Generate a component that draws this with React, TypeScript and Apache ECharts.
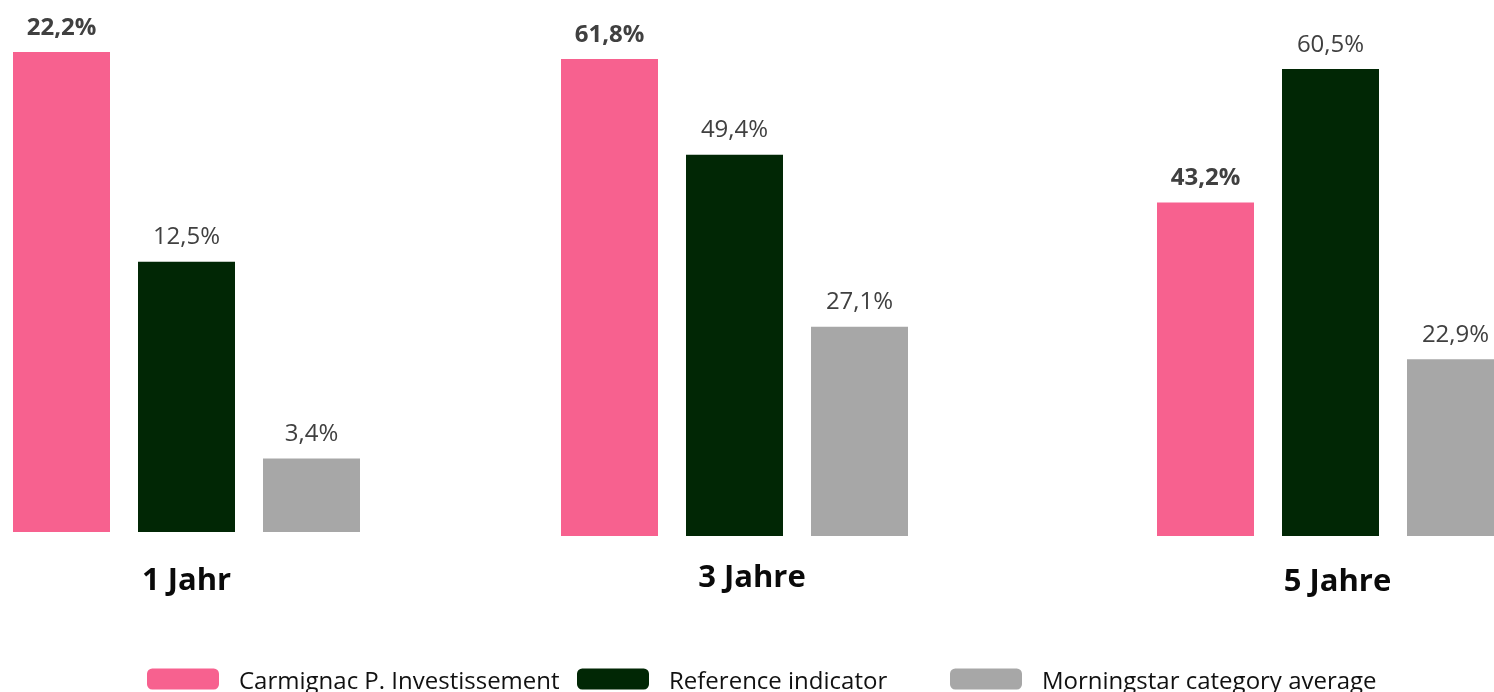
import React, { useEffect, useRef } from "react";
import * as echarts from "echarts";

const periods = ["1 Jahr", "3 Jahre", "5 Jahre"];
const seriesNames = [
  "Carmignac P. Investissement",
  "Reference indicator",
  "Morningstar category average",
];
const carmignac = [22.2, 61.8, 43.2];
const reference = [12.5, 49.4, 60.5];
const morningstar = [3.4, 27.1, 22.9];

const colors = ["#F7618F", "#012705", "#A7A7A7"];
const FONT = "'Open Sans', 'Noto Sans', sans-serif";

// layout of each group (pixel geometry)
const grids = [
  { left: 13, top: 52, height: 480, labelMargin: 30, labelShift: 0 },
  { left: 561, top: 59, height: 477, labelMargin: 23, labelShift: 35 },
  { left: 1157, top: 69, height: 467, labelMargin: 27, labelShift: 14 },
];

const fmt = (v: number) => v.toFixed(1).replace(".", ",") + "%";

export default function App() {
  const ref = useRef<HTMLDivElement>(null);
  useEffect(() => {
    if (!ref.current) return;
    const chart = echarts.init(ref.current, undefined, { renderer: "svg" });
    const all = [carmignac, reference, morningstar];

    const series: any[] = [];
    periods.forEach((_, g) => {
      all.forEach((arr, s) => {
        series.push({
          type: "bar",
          name: seriesNames[s],
          xAxisIndex: g,
          yAxisIndex: g,
          data: [arr[g]],
          barWidth: 97,
          barGap: "28.87%",
          itemStyle: { color: colors[s] },
          label: {
            show: true,
            position: "top",
            distance: 15,
            formatter: (p: any) => fmt(p.value),
            fontFamily: FONT,
            fontSize: 24,
            fontWeight: s === 0 ? "bold" : "normal",
            color: "#404040",
          },
        });
      });
    });

    const legendLefts = [147, 577, 950];

    chart.setOption({
      animation: false,
      grid: grids.map((gr) => ({
        left: gr.left,
        top: gr.top,
        width: 347,
        height: gr.height,
        containLabel: false,
        outerBoundsMode: "none",
      })),
      xAxis: periods.map((p, g) => ({
        type: "category",
        gridIndex: g,
        data: [p],
        axisLine: { show: false },
        axisTick: { show: false },
        axisLabel: {
          margin: grids[g].labelMargin,
          fontFamily: FONT,
          fontSize: 31,
          fontWeight: "bold",
          color: "#0a0a0a",
          padding: [0, 0, 0, grids[g].labelShift],
        },
      })),
      yAxis: periods.map((_, g) => ({
        type: "value",
        gridIndex: g,
        min: 0,
        max: Math.max(carmignac[g], reference[g], morningstar[g]),
        show: false,
      })),
      legend: seriesNames.map((n, i) => ({
        data: [n],
        left: legendLefts[i],
        top: 667,
        padding: 0,
        icon: "roundRect",
        itemWidth: 72,
        itemHeight: 21,
        selectedMode: false,
        textStyle: {
          fontFamily: FONT,
          fontSize: 24,
          color: "#111111",
          lineHeight: 21,
          padding: [0, 0, 0, 15],
        },
      })),
      series,
    });
    return () => chart.dispose();
  }, []);
  return (
    <div
      ref={ref}
      style={{ position: "fixed", left: 0, top: 0, width: 1494, height: 692 }}
    />
  );
}
